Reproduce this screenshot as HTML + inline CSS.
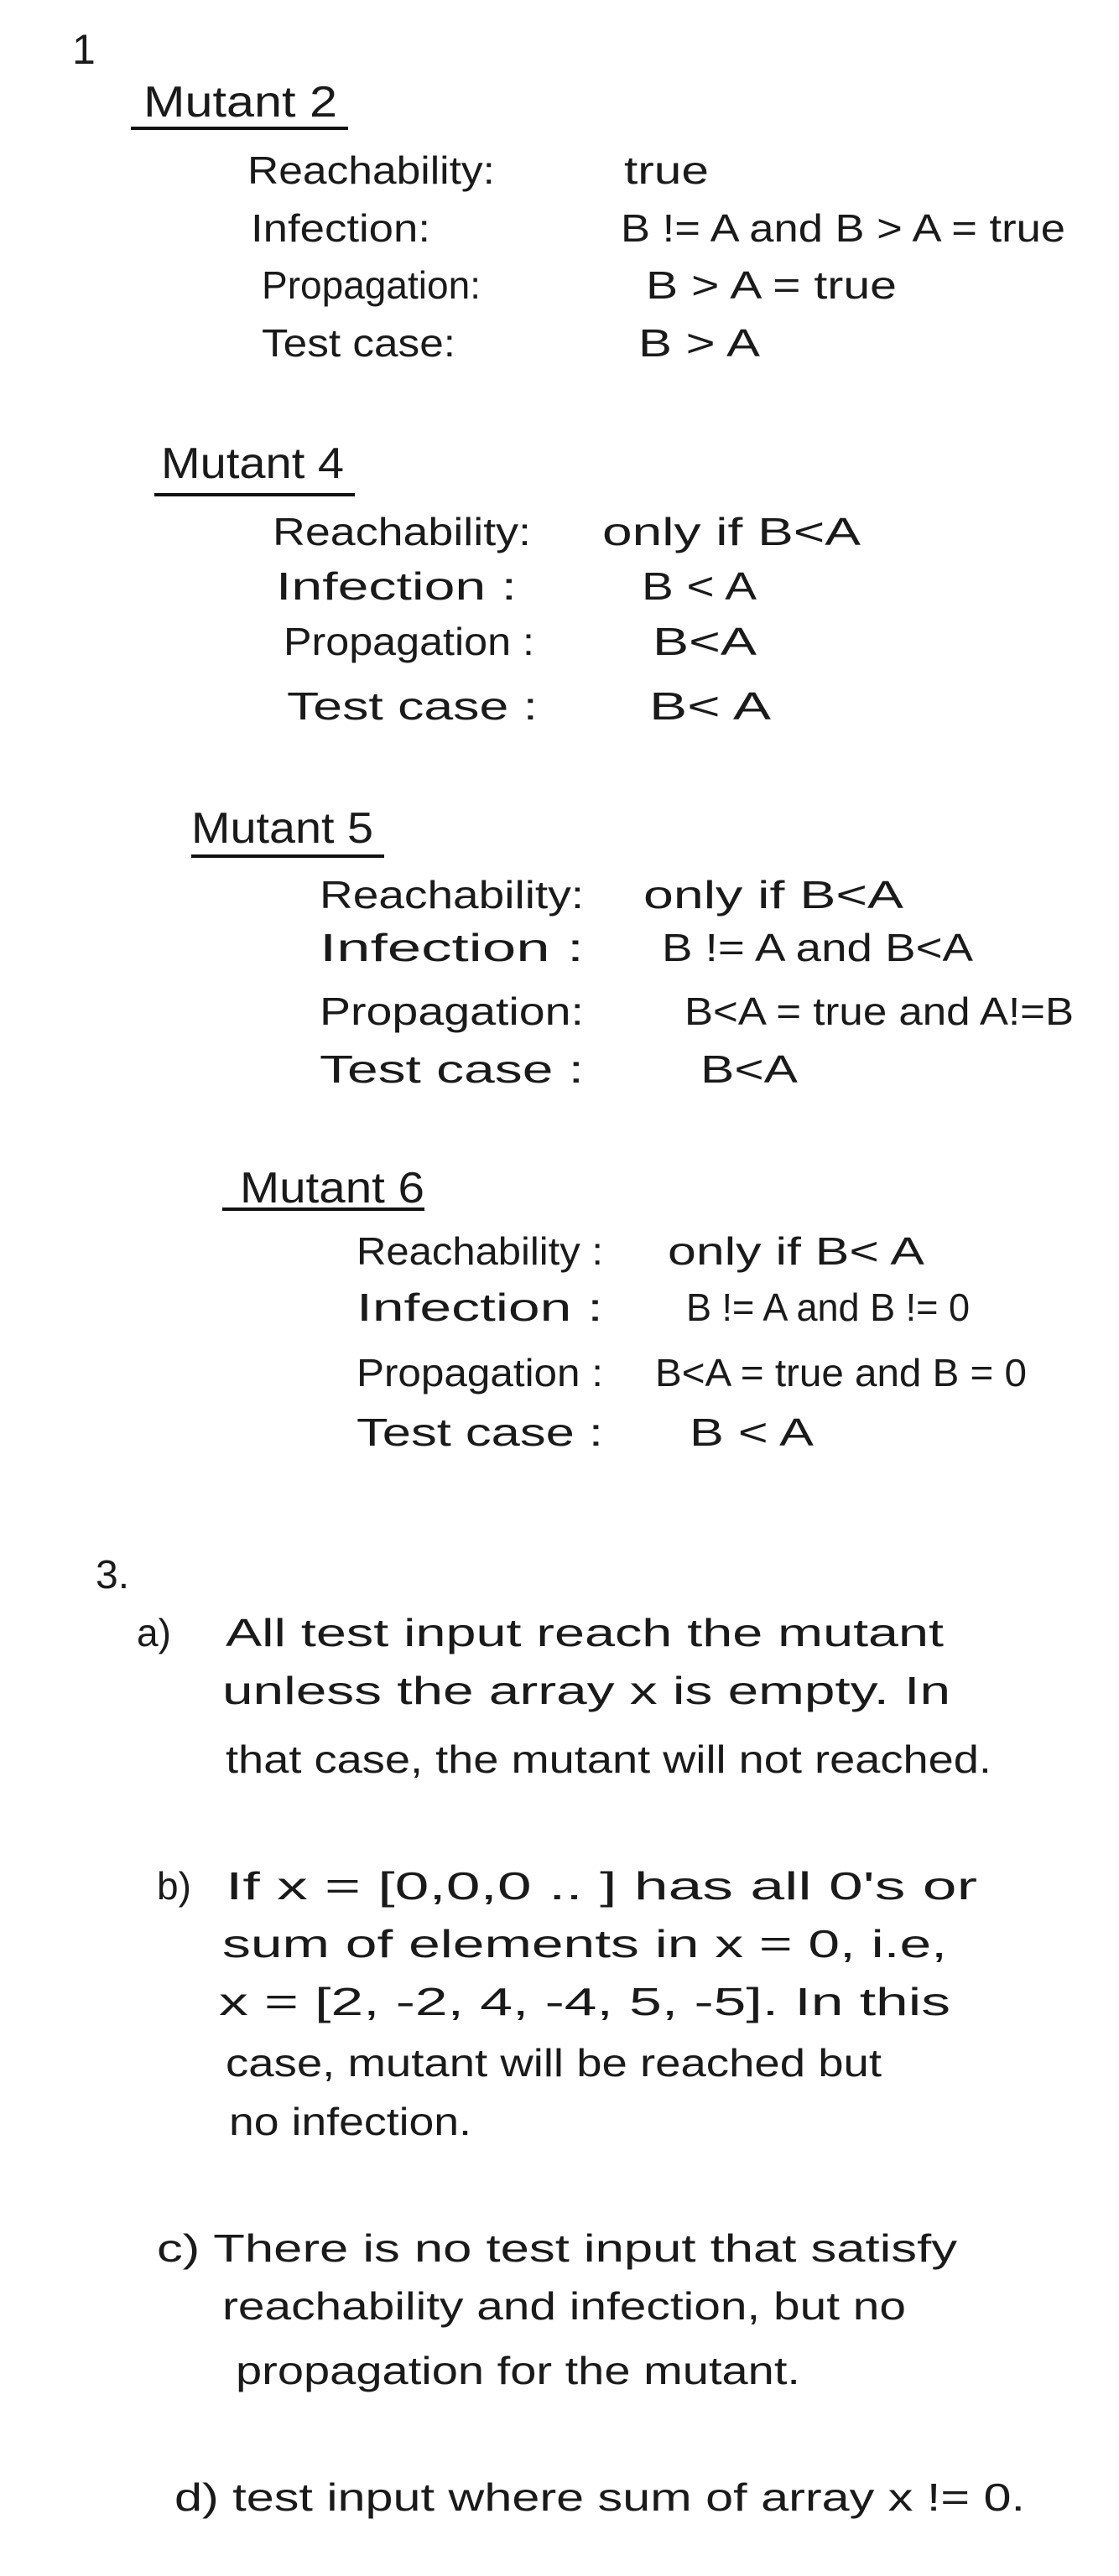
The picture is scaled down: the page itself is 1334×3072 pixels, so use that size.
<!DOCTYPE html>
<html><head><meta charset="utf-8"><style>
html,body{margin:0;padding:0;background:#fff;}
svg{display:block}
text{font-family:"Liberation Sans",sans-serif;fill:#1a1a1a;}
</style></head><body>
<svg width="1334" height="3072" viewBox="0 0 1334 3072" xmlns="http://www.w3.org/2000/svg">
<g font-size="46">
<text x="86" y="76" font-size="50">1</text>

<text x="171" y="139" textLength="231" lengthAdjust="spacingAndGlyphs" font-size="52">Mutant 2</text>
<line x1="156" y1="153" x2="415" y2="153" stroke="#111" stroke-width="4"/>
<text x="295" y="219" textLength="295" lengthAdjust="spacingAndGlyphs">Reachability:</text>
<text x="744" y="219" textLength="101" lengthAdjust="spacingAndGlyphs">true</text>
<text x="299" y="288" textLength="214" lengthAdjust="spacingAndGlyphs">Infection:</text>
<text x="740" y="288" textLength="530" lengthAdjust="spacingAndGlyphs">B != A and B &gt; A = true</text>
<text x="312" y="356" textLength="261" lengthAdjust="spacingAndGlyphs">Propagation:</text>
<text x="770" y="356" textLength="299" lengthAdjust="spacingAndGlyphs">B &gt; A = true</text>
<text x="312" y="425" textLength="231" lengthAdjust="spacingAndGlyphs">Test case:</text>
<text x="761" y="425" textLength="145" lengthAdjust="spacingAndGlyphs">B &gt; A</text>

<text x="192" y="570" textLength="218" lengthAdjust="spacingAndGlyphs" font-size="52">Mutant 4</text>
<line x1="184" y1="590" x2="423" y2="590" stroke="#111" stroke-width="4"/>
<text x="325" y="650" textLength="308" lengthAdjust="spacingAndGlyphs">Reachability:</text>
<text x="718" y="650" textLength="308" lengthAdjust="spacingAndGlyphs">only if B&lt;A</text>
<text x="329" y="715" textLength="287" lengthAdjust="spacingAndGlyphs">Infection    :</text>
<text x="765" y="715" textLength="137" lengthAdjust="spacingAndGlyphs">B &lt; A</text>
<text x="338" y="781" textLength="299" lengthAdjust="spacingAndGlyphs">Propagation :</text>
<text x="778" y="781" textLength="124" lengthAdjust="spacingAndGlyphs">B&lt;A</text>
<text x="342" y="858" textLength="299" lengthAdjust="spacingAndGlyphs">Test case   :</text>
<text x="774" y="858" textLength="145" lengthAdjust="spacingAndGlyphs">B&lt; A</text>

<text x="228" y="1005" textLength="217" lengthAdjust="spacingAndGlyphs" font-size="52">Mutant 5</text>
<line x1="228" y1="1021" x2="458" y2="1021" stroke="#111" stroke-width="4"/>
<text x="381" y="1083" textLength="315" lengthAdjust="spacingAndGlyphs">Reachability:</text>
<text x="767" y="1083" textLength="310" lengthAdjust="spacingAndGlyphs">only if B&lt;A</text>
<text x="381" y="1146" textLength="315" lengthAdjust="spacingAndGlyphs">Infection     :</text>
<text x="789" y="1146" textLength="371" lengthAdjust="spacingAndGlyphs">B != A and B&lt;A</text>
<text x="381" y="1222" textLength="315" lengthAdjust="spacingAndGlyphs">Propagation:</text>
<text x="816" y="1222" textLength="464" lengthAdjust="spacingAndGlyphs">B&lt;A = true and A!=B</text>
<text x="381" y="1291" textLength="315" lengthAdjust="spacingAndGlyphs">Test case     :</text>
<text x="835" y="1291" textLength="116" lengthAdjust="spacingAndGlyphs">B&lt;A</text>

<text x="286" y="1434" textLength="220" lengthAdjust="spacingAndGlyphs" font-size="52">Mutant 6</text>
<line x1="265" y1="1442" x2="506" y2="1442" stroke="#111" stroke-width="4"/>
<text x="425" y="1508" textLength="294" lengthAdjust="spacingAndGlyphs">Reachability  :</text>
<text x="796" y="1508" textLength="306" lengthAdjust="spacingAndGlyphs">only if B&lt; A</text>
<text x="425" y="1575" textLength="294" lengthAdjust="spacingAndGlyphs">Infection      :</text>
<text x="818" y="1575" textLength="338" lengthAdjust="spacingAndGlyphs">B != A and B != 0</text>
<text x="425" y="1653" textLength="294" lengthAdjust="spacingAndGlyphs">Propagation  :</text>
<text x="781" y="1653" textLength="443" lengthAdjust="spacingAndGlyphs">B&lt;A = true and B = 0</text>
<text x="425" y="1724" textLength="294" lengthAdjust="spacingAndGlyphs">Test case     :</text>
<text x="822" y="1724" textLength="148" lengthAdjust="spacingAndGlyphs">B &lt; A</text>

<text x="114" y="1894" font-size="48">3.</text>
<text x="163" y="1963">a)</text>
<text x="269" y="1963" textLength="856" lengthAdjust="spacingAndGlyphs">All test input reach the mutant</text>
<text x="265" y="2032" textLength="868" lengthAdjust="spacingAndGlyphs">unless the array x is empty. In</text>
<text x="269" y="2114" textLength="913" lengthAdjust="spacingAndGlyphs">that case, the mutant will not reached.</text>

<text x="187" y="2265">b)</text>
<text x="269" y="2265" textLength="896" lengthAdjust="spacingAndGlyphs">If x = [0,0,0 .. ] has all 0's or</text>
<text x="265" y="2334" textLength="864" lengthAdjust="spacingAndGlyphs">sum of elements in x = 0, i.e,</text>
<text x="261" y="2403" textLength="872" lengthAdjust="spacingAndGlyphs">x = [2, -2, 4, -4, 5, -5]. In this</text>
<text x="269" y="2476" textLength="782" lengthAdjust="spacingAndGlyphs">case, mutant will be reached but</text>
<text x="273" y="2546" textLength="289" lengthAdjust="spacingAndGlyphs">no infection.</text>

<text x="187" y="2697" textLength="954" lengthAdjust="spacingAndGlyphs">c) There is no test input that satisfy</text>
<text x="265" y="2766" textLength="815" lengthAdjust="spacingAndGlyphs">reachability and infection, but no</text>
<text x="281" y="2843" textLength="673" lengthAdjust="spacingAndGlyphs">propagation for the mutant.</text>

<text x="208" y="2994" textLength="1014" lengthAdjust="spacingAndGlyphs">d) test input where sum of array x != 0.</text>
</g>
</svg>
</body></html>
